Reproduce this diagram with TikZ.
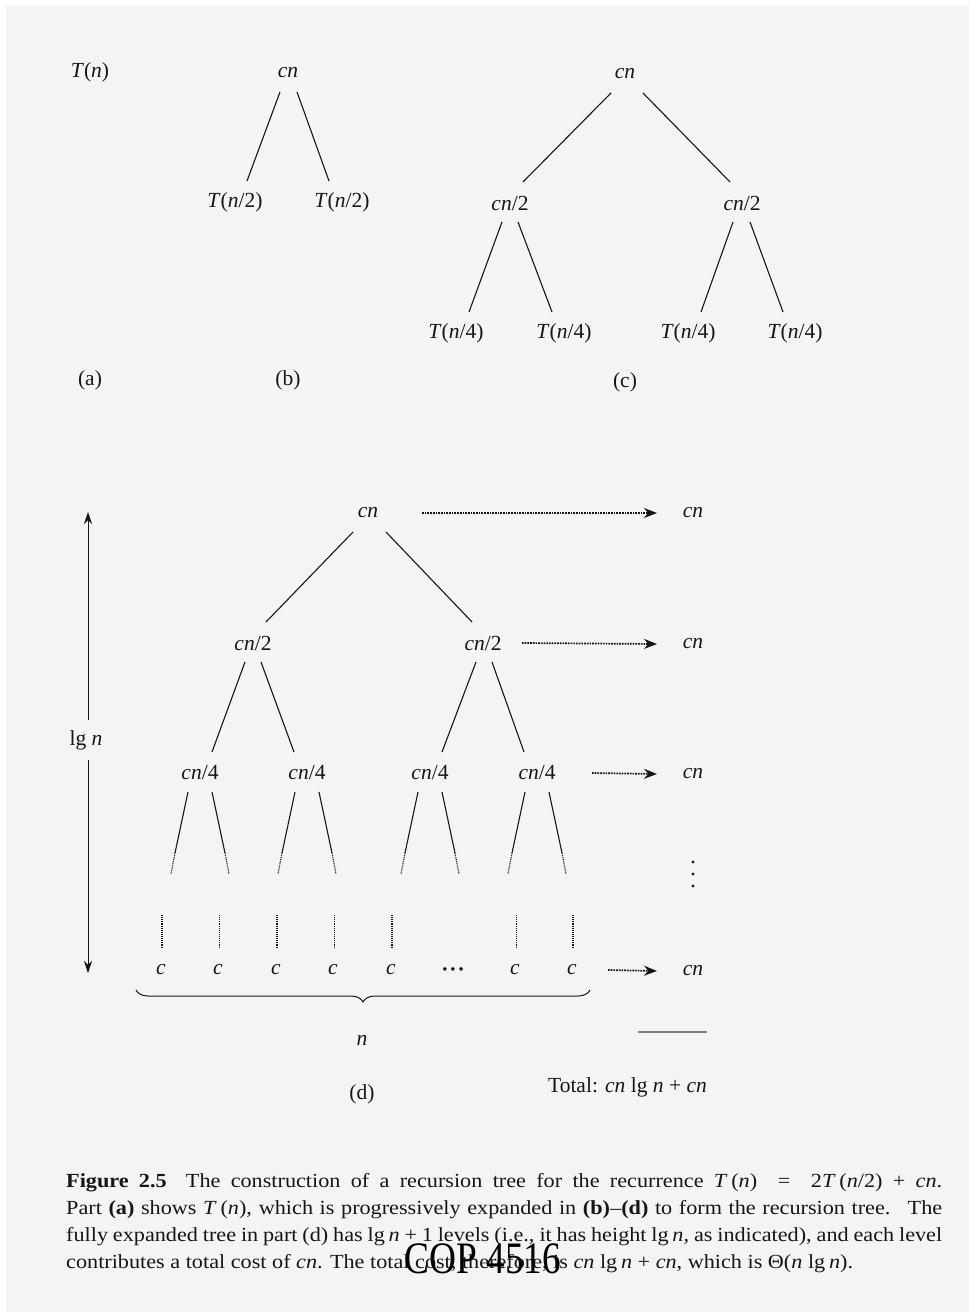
\documentclass[tikz,border=0pt]{standalone}
\usepackage{fontspec}
\setmainfont{Liberation Serif}
\usetikzlibrary{calc,arrows.meta,decorations.pathreplacing}
\definecolor{bg}{HTML}{F4F4F4}
\definecolor{ink}{HTML}{161616}
\newcommand\tedge[4]{\draw[edge] ($(#1)+(#3,19)$) -- ($(#2)+(#4,-21)$);}
\newcommand\dedge[2]{%
  \draw[edge] ($(#1)+(#2*12,19)$) -- ($(#1)+(#2*25,80)$) coordinate (tmp);
  \draw[edge,densely dotted] (tmp) -- ($(#1)+(#2*29,101)$);}
\newcommand\vdot[2]{\draw[edge,densely dotted,#2] ($(#1)+(1,-55)$) -- ($(#1)+(1,-22)$);}
\newcommand\capline[1]{\scalebox{1.11}[1]{\makebox[789.2pt][s]{#1}}}
\begin{document}
\begin{tikzpicture}[x=1pt,y=-1pt,
  lbl/.style={font=\fontsize{21.5}{24}\selectfont, text=ink, inner sep=0pt},
  captionline/.style={font=\fontsize{20}{23}\selectfont, text=ink, inner sep=0pt, anchor=base west},
  edge/.style={draw=ink, line width=1.1pt},
  dotarrow/.style={draw=ink, line width=1.7pt, densely dotted, -{Stealth[length=13pt,width=10pt]}},
  lgarrow/.style={draw=ink, line width=0.8pt, -{Stealth[length=12pt,width=8pt]}}]
\useasboundingbox (0,0) rectangle (969,1313);
\fill[white] (0,0) rectangle (969,1313);
\fill[bg] (6,5) rectangle (969,1312);

% (a)
\node[lbl] (a0) at (90,72) {\textit{T}(\textit{n})};
\node[lbl] (la) at (90,380) {(a)};

% (b)
\node[lbl] (b0) at (288,73) {\textit{cn}};
\node[lbl] (b1) at (235,202) {\textit{T}(\textit{n}/2)};
\node[lbl] (b2) at (342,202) {\textit{T}(\textit{n}/2)};
\tedge{b0}{b1}{-8}{12}
\tedge{b0}{b2}{9}{-13}
\node[lbl] (lb) at (288,380) {(b)};

% (c)
\node[lbl] (c0) at (625,74) {\textit{cn}};
\node[lbl] (c1) at (510,203) {\textit{cn}/2};
\node[lbl] (c2) at (742,203) {\textit{cn}/2};
\node[lbl] (c11) at (456,333) {\textit{T}(\textit{n}/4)};
\node[lbl] (c12) at (564,333) {\textit{T}(\textit{n}/4)};
\node[lbl] (c21) at (688,333) {\textit{T}(\textit{n}/4)};
\node[lbl] (c22) at (795,333) {\textit{T}(\textit{n}/4)};
\tedge{c0}{c1}{-14}{13}
\tedge{c0}{c2}{18}{-12}
\tedge{c1}{c11}{-8}{13}
\tedge{c1}{c12}{8}{-12}
\tedge{c2}{c21}{-9}{13}
\tedge{c2}{c22}{8}{-12}
\node[lbl] (lc) at (625,382) {(c)};

% (d)
\node[lbl] (d0) at (368,513) {\textit{cn}};
\node[lbl] (d1) at (253,643) {\textit{cn}/2};
\node[lbl] (d2) at (483,643) {\textit{cn}/2};
\node[lbl] (d11) at (200,773) {\textit{cn}/4};
\node[lbl] (d12) at (307,773) {\textit{cn}/4};
\node[lbl] (d21) at (430,773) {\textit{cn}/4};
\node[lbl] (d22) at (537,773) {\textit{cn}/4};
\tedge{d0}{d1}{-15}{13}
\tedge{d0}{d2}{18}{-11}
\tedge{d1}{d11}{-8}{12}
\tedge{d1}{d12}{8}{-13}
\tedge{d2}{d21}{-7}{12}
\tedge{d2}{d22}{9}{-13}
\foreach \n in {d11,d12,d21,d22}{\dedge{\n}{-1}\dedge{\n}{1}}

% leaves
\node[lbl] (l1) at (161,970) {\textit{c}};
\node[lbl] (l2) at (218,970) {\textit{c}};
\node[lbl] (l3) at (276,970) {\textit{c}};
\node[lbl] (l4) at (333,970) {\textit{c}};
\node[lbl] (l5) at (391,970) {\textit{c}};
\node[lbl] (l6) at (453,972) {\textbf{·\hspace{1pt}·\hspace{1pt}·}};
\node[lbl] (l7) at (515,970) {\textit{c}};
\node[lbl] (l8) at (572,970) {\textit{c}};
\vdot{l1}{}
\vdot{l2}{line width=0.7pt}
\vdot{l3}{}
\vdot{l4}{line width=0.7pt}
\vdot{l5}{}
\vdot{l7}{line width=0.7pt}
\vdot{l8}{}
\draw[decorate, decoration={brace, mirror, amplitude=12pt}, draw=ink, line width=1pt]
  ($(l1)+(-25,20)$) -- ($(l8)+(18,20)$);
\node[lbl] (nn) at (362,1040) {\textit{n}};
\node[lbl] (ld) at (362,1094) {(d)};

% lg n
\node[lbl] (lg) at (86,740) {lg \textit{n}};
\coordinate (lgtop) at (88,512);
\coordinate (lgbot) at (88,973);
\draw[lgarrow] ([xshift=2pt,yshift=10pt]lg.north) -- (lgtop);
\draw[lgarrow] ([xshift=2pt,yshift=-10pt]lg.south) -- (lgbot);

% right column
\node[lbl] (r1) at (693,513) {\textit{cn}};
\node[lbl] (r2) at (693,644) {\textit{cn}};
\node[lbl] (r3) at (693,774) {\textit{cn}};
\node[lbl] (r5) at (693,971) {\textit{cn}};
\draw[dotarrow] ($(d0)+(54,0)$) -- ($(r1)+(-36,0)$);
\draw[dotarrow] ($(d2)+(39,0)$) -- ($(r2)+(-36,0)$);
\draw[dotarrow] ($(d22)+(55,0)$) -- ($(r3)+(-36,0)$);
\draw[dotarrow] ($(l8)+(36,0)$) -- ($(r5)+(-36,0)$);
\foreach \yy in {862,874,886}{\fill[ink] (693,\yy) circle (1.7pt);}
\node[lbl, anchor=east] (tot) at (707,1087) {Total: \textit{cn} lg \textit{n} + \textit{cn}};
\draw[draw=gray, line width=1.3pt] ($(tot.north east)+(0,-45)$) -- ++(-69,0);

% caption
\node[captionline] (cap1) at (66,1187) {\capline{\textbf{Figure 2.5}\hspace{8pt} The construction of a recursion tree for the recurrence \textit{T}\,(\textit{n}) \ = \ 2\textit{T}\,(\textit{n}/2) + \textit{cn}.}};
\node[captionline] (cap2) at (66,1214) {\capline{Part \textbf{(a)} shows \textit{T}\,(\textit{n}), which is progressively expanded in \textbf{(b)}–\textbf{(d)} to form the recursion tree. \ The}};
\node[captionline] (cap3) at (66,1241) {\capline{fully expanded tree in part (d) has lg\,\textit{n} + 1 levels (i.e., it has height lg\,\textit{n}, as indicated), and each level}};
\node[captionline] (cap4) at (66,1268) {\scalebox{1.11}[1]{contributes a total cost of \textit{cn}. The total cost, therefore, is \textit{cn} lg\,\textit{n} + \textit{cn}, which is Θ(\textit{n} lg\,\textit{n}).}};
\node[inner sep=0pt, anchor=base, font=\fontsize{45}{50}\selectfont, text=black] (cop) at (483,1273) {\scalebox{0.83}[1]{COP 4516}};
\end{tikzpicture}
\end{document}
